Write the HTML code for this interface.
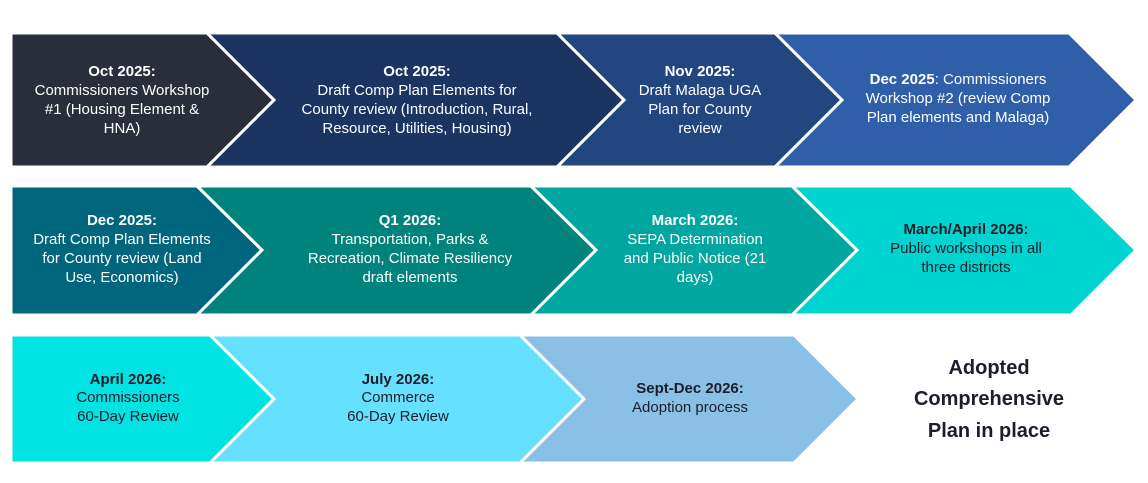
<!DOCTYPE html>
<html><head><meta charset="utf-8"><style>
html,body{margin:0;padding:0;background:#fff}
svg{display:block}
text{font-family:"Liberation Sans",sans-serif;font-size:15px;text-anchor:middle}
.b{font-weight:bold}
.w{fill:#fff}.d{fill:#1d1d2b}
</style></head><body>
<svg width="1148" height="483" viewBox="0 0 1148 483">
<g stroke="#fff" stroke-width="3" stroke-linejoin="miter">
<polygon fill="#2a2d3b" points="11,33 207,33 274,100 207,167 11,167"/>
<polygon fill="#1b3461" points="207,33 557,33 624,100 557,167 207,167 274,100"/>
<polygon fill="#22467f" points="557,33 775,33 842,100 775,167 557,167 624,100"/>
<polygon fill="#2e5fa8" points="775,33 1069,33 1136,100 1069,167 775,167 842,100"/>

<polygon fill="#00667e" points="11,186 197,186 262,250 197,315 11,315"/>
<polygon fill="#00827d" points="197,186 531,186 596,250 531,315 197,315 262,250"/>
<polygon fill="#00a6a0" points="531,186 792,186 857,250 792,315 531,315 596,250"/>
<polygon fill="#00d4d0" points="792,186 1071,186 1136,250 1071,315 792,315 857,250"/>

<polygon fill="#00e3e3" points="11,335 210,335 274,399 210,463 11,463"/>
<polygon fill="#66e0ff" points="210,335 520,335 584,399 520,463 210,463 274,399"/>
<polygon fill="#8abfe6" points="520,335 794,335 858,399 794,463 520,463 584,399"/>
</g>

<g class="w">
<text x="122" y="76" class="b">Oct 2025:</text>
<text x="122" y="95">Commissioners Workshop</text>
<text x="122" y="114">#1 (Housing Element &amp;</text>
<text x="122" y="133">HNA)</text>

<text x="417" y="76" class="b">Oct 2025:</text>
<text x="417" y="95">Draft Comp Plan Elements for</text>
<text x="417" y="114">County review (Introduction, Rural,</text>
<text x="417" y="133">Resource, Utilities, Housing)</text>

<text x="700" y="76" class="b">Nov 2025:</text>
<text x="700" y="95">Draft Malaga UGA</text>
<text x="700" y="114">Plan for County</text>
<text x="700" y="133">review</text>

<text x="958" y="84"><tspan class="b">Dec 2025</tspan>: Commissioners</text>
<text x="958" y="103">Workshop #2 (review Comp</text>
<text x="958" y="122">Plan elements and Malaga)</text>

<text x="122" y="225" class="b">Dec 2025:</text>
<text x="122" y="244">Draft Comp Plan Elements</text>
<text x="122" y="263">for County review (Land</text>
<text x="122" y="282">Use, Economics)</text>

<text x="410" y="225" class="b">Q1 2026:</text>
<text x="410" y="244">Transportation, Parks &amp;</text>
<text x="410" y="263">Recreation, Climate Resiliency</text>
<text x="410" y="282">draft elements</text>

<text x="695" y="225" class="b">March 2026:</text>
<text x="695" y="244">SEPA Determination</text>
<text x="695" y="263">and Public Notice (21</text>
<text x="695" y="282">days)</text>
</g>

<g class="d">
<text x="966" y="234" class="b">March/April 2026:</text>
<text x="966" y="253">Public workshops in all</text>
<text x="966" y="272">three districts</text>

<text x="128" y="384" class="b">April 2026:</text>
<text x="128" y="402">Commissioners</text>
<text x="128" y="421">60-Day Review</text>

<text x="398" y="384" class="b">July 2026:</text>
<text x="398" y="402">Commerce</text>
<text x="398" y="421">60-Day Review</text>

<text x="690" y="393" class="b">Sept-Dec 2026:</text>
<text x="690" y="412">Adoption process</text>

<text x="989" y="374" class="b" style="font-size:20px">Adopted</text>
<text x="989" y="405" class="b" style="font-size:20px">Comprehensive</text>
<text x="989" y="437" class="b" style="font-size:20px">Plan in place</text>
</g>
</svg>
</body></html>
